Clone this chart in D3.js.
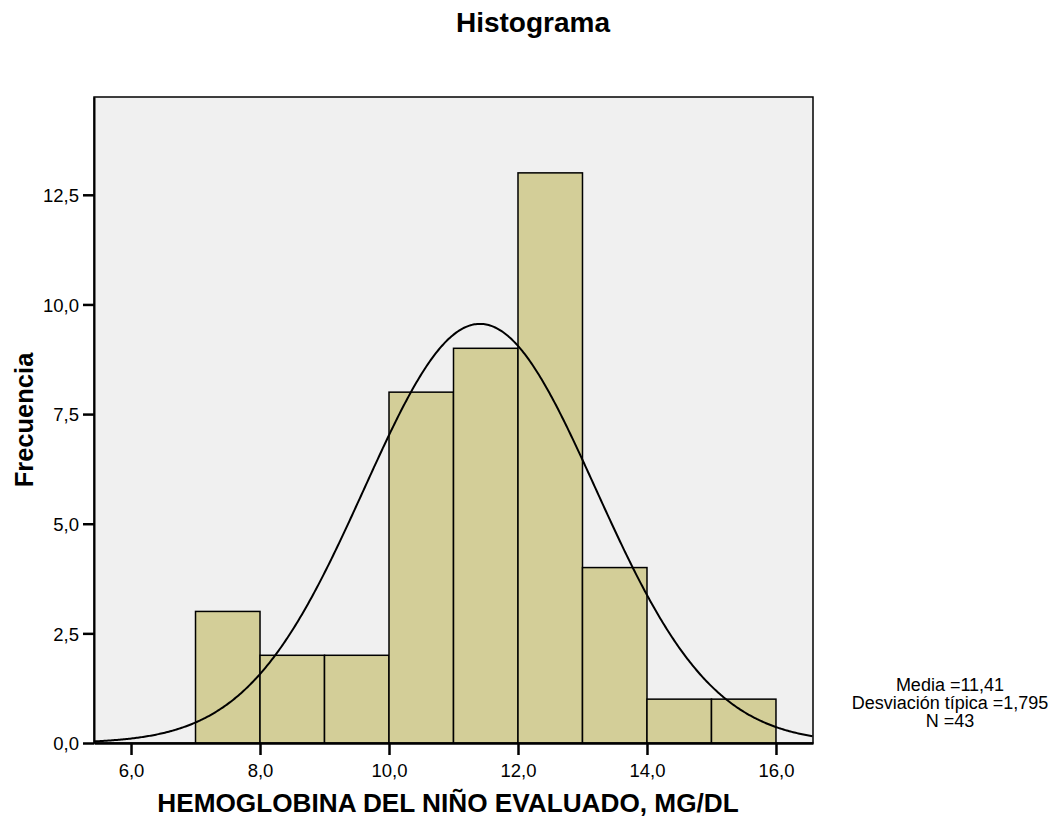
<!DOCTYPE html>
<html><head><meta charset="utf-8">
<script src="https://cdn.jsdelivr.net/npm/d3@7"></script>
<style>body{margin:0;background:#fff;font-family:"Liberation Sans",Arial,sans-serif;}</style>
</head><body>
<svg id="c" width="1062" height="818" font-family="Liberation Sans, Arial, sans-serif"></svg>
<script>
const binStarts = [7, 8, 9, 10, 11, 12, 13, 14, 15];
const counts = [3, 2, 2, 8, 9, 13, 4, 1, 1];
const binWidth = 1;
const xTicks = [6, 8, 10, 12, 14, 16];
const yTicks = [0, 2.5, 5, 7.5, 10, 12.5];
const mean = 11.41, sd = 1.795, n = 43;

const svg = d3.select("#c");
const L = 94, R = 813, T = 97, B = 743;
const x = d3.scaleLinear().domain([5.426, 16.574]).range([L, R]);
const y = d3.scaleLinear().domain([0, 14.73]).range([B, T]);
const fmt = v => d3.format(".1f")(v).replace(".", ",");

svg.append("rect").attr("x", L).attr("y", T).attr("width", R - L).attr("height", B - T)
  .attr("fill", "#f0f0f0").attr("stroke", "#000").attr("stroke-width", 1.5);

svg.selectAll("rect.bar").data(binStarts).join("rect").attr("class", "bar")
  .attr("x", d => x(d)).attr("width", d => x(d + binWidth) - x(d))
  .attr("y", (d, i) => y(counts[i])).attr("height", (d, i) => B - y(counts[i]))
  .attr("fill", "#d3ce98").attr("stroke", "#000").attr("stroke-width", 1.5);

const pts = d3.range(x.domain()[0], x.domain()[1] + 0.001, 0.02).map(v =>
  [v, n * binWidth * Math.exp(-0.5 * ((v - mean) / sd) ** 2) / (sd * Math.sqrt(2 * Math.PI))]);
svg.append("path").datum(pts).attr("fill", "none").attr("stroke", "#000").attr("stroke-width", 2)
  .attr("d", d3.line().x(d => x(d[0])).y(d => y(d[1])));

const yAxis = svg.append("g").attr("transform", `translate(${L},0)`)
  .call(d3.axisLeft(y).tickValues(yTicks).tickFormat(fmt).tickSize(11).tickPadding(4).tickSizeOuter(0));
yAxis.select(".domain").attr("stroke-width", 2);
yAxis.selectAll(".tick line").attr("stroke-width", 2.5);
yAxis.selectAll("text").attr("font-size", 18.5).attr("font-family", "Liberation Sans, Arial").attr("fill", "#000").attr("dy", "0.36em");

const xAxis = svg.append("g").attr("transform", `translate(0,${B})`)
  .call(d3.axisBottom(x).tickValues(xTicks).tickFormat(fmt).tickSize(12).tickPadding(9).tickSizeOuter(0));
xAxis.select(".domain").attr("stroke-width", 2.5);
xAxis.selectAll(".tick line").attr("stroke-width", 2.5);
xAxis.selectAll("text").attr("font-size", 18.5).attr("font-family", "Liberation Sans, Arial").attr("fill", "#000").attr("dy", "0.71em");

svg.append("text").attr("x", 533).attr("y", 32).attr("text-anchor", "middle")
  .attr("font-size", 28).attr("font-weight", "bold").text("Histograma");
svg.append("text").attr("x", 448).attr("y", 812).attr("text-anchor", "middle")
  .attr("font-size", 26.2).attr("font-weight", "bold").text("HEMOGLOBINA DEL NIÑO EVALUADO, MG/DL");
svg.append("text").attr("transform", "translate(33,420) rotate(-90)").attr("text-anchor", "middle")
  .attr("font-size", 25.5).attr("font-weight", "bold").text("Frecuencia");

const leg = ["Media =11,41", "Desviación típica =1,795", "N =43"];
svg.append("g").selectAll("text").data(leg).join("text")
  .attr("x", 950).attr("y", (d, i) => 691 + i * 18).attr("text-anchor", "middle")
  .attr("font-size", 18).text(d => d);
</script>
</body></html>
